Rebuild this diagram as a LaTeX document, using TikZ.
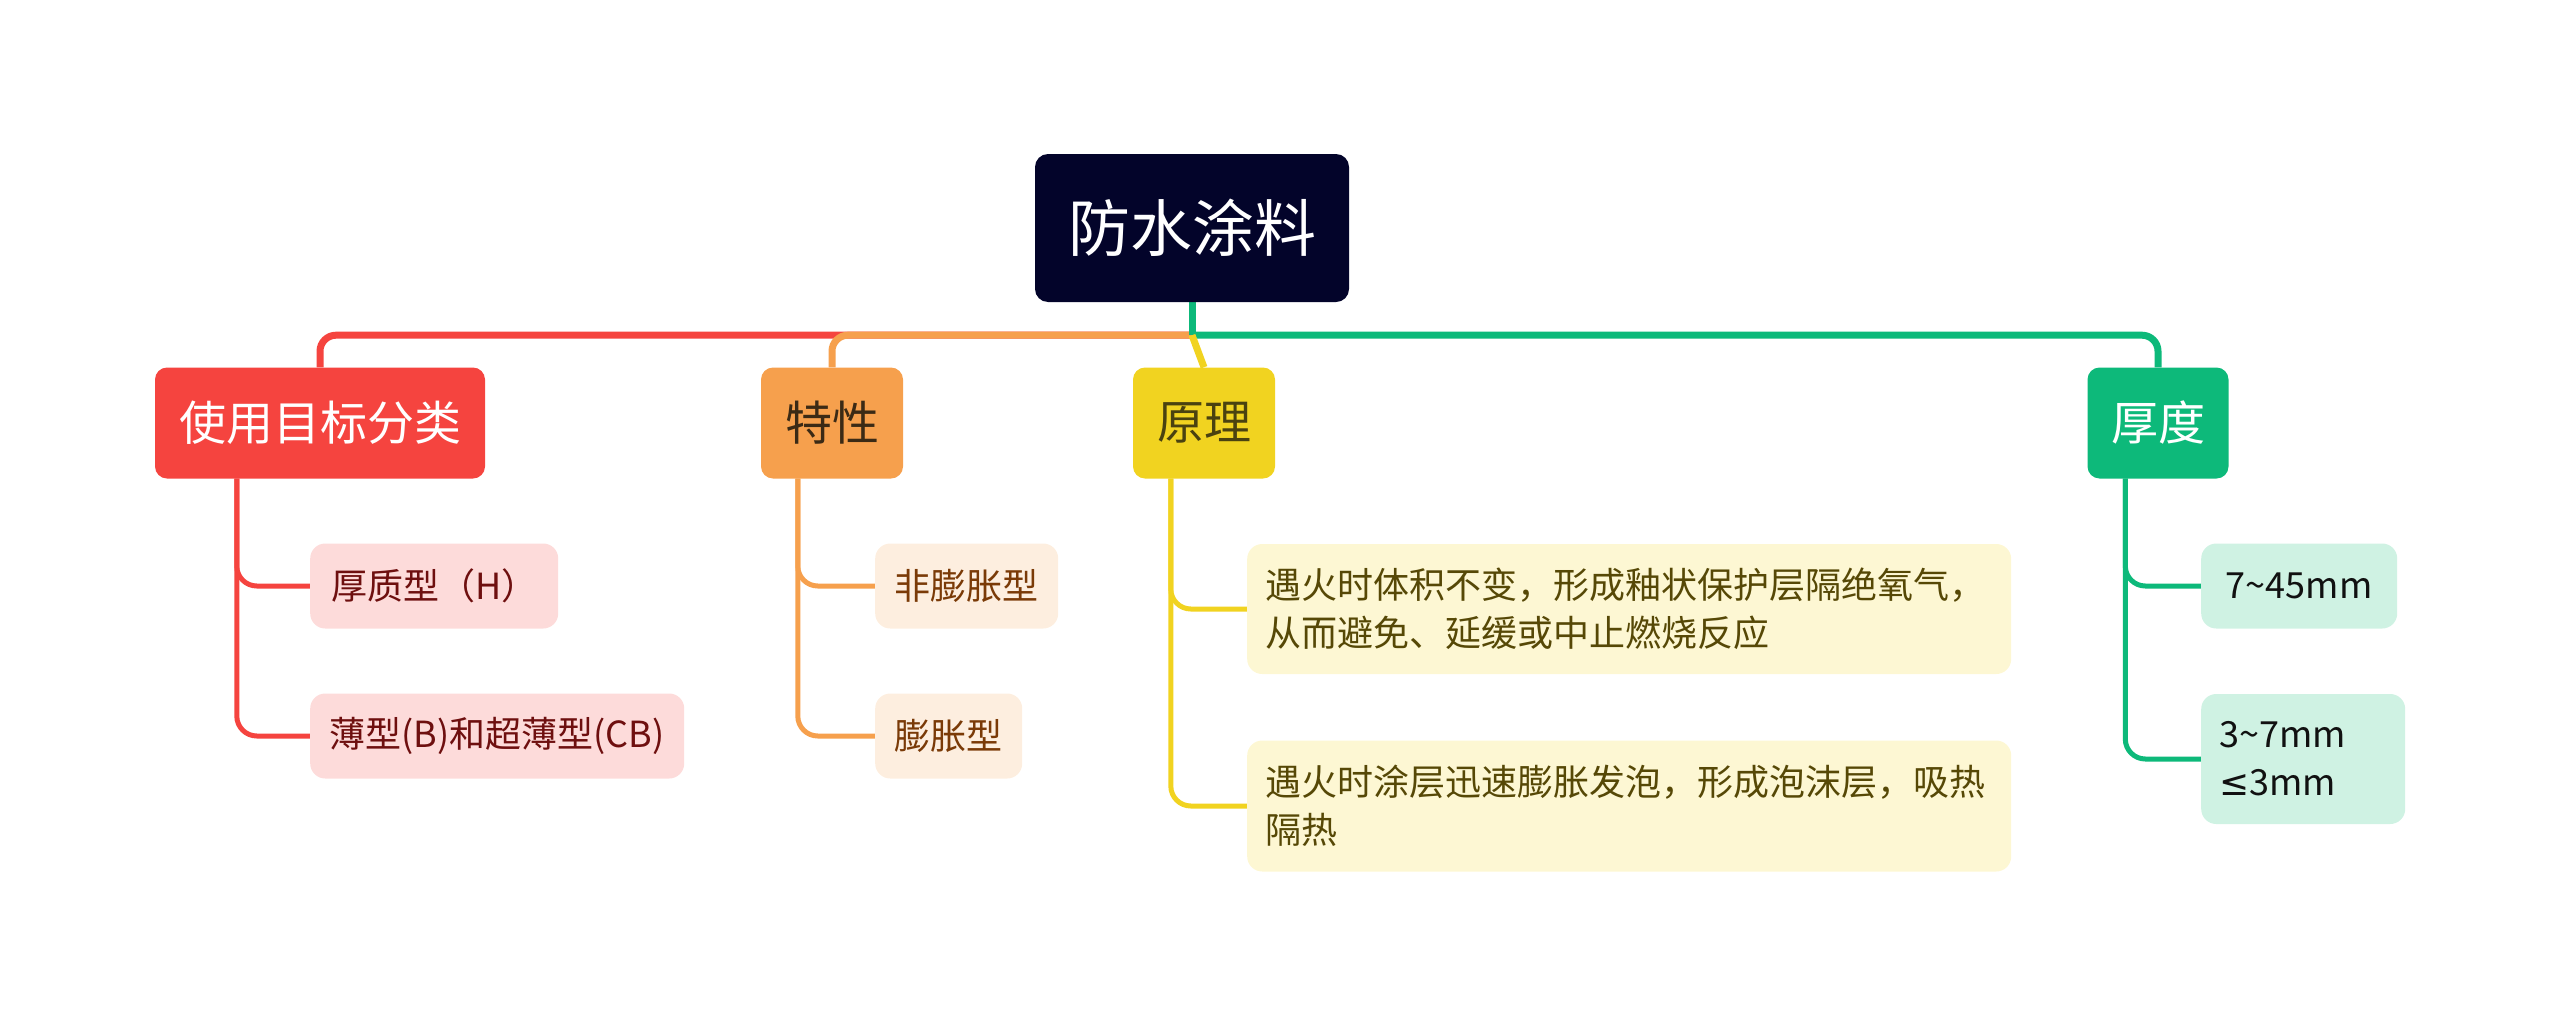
\documentclass[tikz,border=0pt]{standalone}
\usepackage{fontspec}
\setmainfont{Noto Sans CJK SC}
\newfontfamily\symfnt{DejaVu Sans}
\usetikzlibrary{calc,backgrounds}
\definecolor{rootfill}{HTML}{03042A}
\definecolor{redm}{HTML}{F5443F}
\definecolor{redc}{HTML}{FDDBDA}
\definecolor{redt}{HTML}{6E0F0F}
\definecolor{orm}{HTML}{F6A04D}
\definecolor{orc}{HTML}{FDEEDF}
\definecolor{ort}{HTML}{7A3A07}
\definecolor{ormt}{HTML}{3B2A15}
\definecolor{yem}{HTML}{F1D320}
\definecolor{yec}{HTML}{FDF7D3}
\definecolor{yet}{HTML}{564806}
\definecolor{yemt}{HTML}{4A4210}
\definecolor{grm}{HTML}{0DB97A}
\definecolor{grc}{HTML}{CFF2E3}
\definecolor{grt}{HTML}{111111}
\tikzset{
  rootbox/.style={rectangle, rounded corners=13pt, fill=rootfill, text=white,
    minimum width=314pt, minimum height=148pt, inner sep=0pt,
    font=\fontsize{62pt}{74pt}\selectfont},
  mainbox/.style={rectangle, rounded corners=12pt, minimum height=111pt, inner sep=0pt,
    font=\fontsize{47pt}{56pt}\selectfont},
  childbox/.style={rectangle, rounded corners=15pt, anchor=west, minimum height=85pt,
    inner xsep=18pt, inner ysep=0pt, align=left,
    font=\fontsize{36pt}{48pt}\selectfont},
  mainline/.style={line width=7pt},
  childline/.style={line width=5pt, rounded corners=20pt},
}
\begin{document}
\begin{tikzpicture}[x=1pt,y=-1pt]
\useasboundingbox (0,0) rectangle (2560,1028);

% root
\node[rootbox] (root) at (1192,228) {防水涂料};

% main branches
\node[mainbox, fill=redm, text=white, minimum width=330pt] (r1) at (320,423) {使用目标分类};
\node[mainbox, fill=orm, text=ormt, minimum width=142pt] (o1) at (832,423) {特性};
\node[mainbox, fill=yem, text=yemt, minimum width=142pt] (y1) at (1204,423) {原理};
\node[mainbox, fill=grm, text=white, minimum width=141pt] (g1) at (2158,423) {厚度};

% children
\node[childbox, fill=redc, text=redt, minimum width=248pt] (rc1) at (310,586) {厚质型（H）};
\node[childbox, fill=redc, text=redt, minimum width=374pt] (rc2) at (310,736) {薄型(B)和超薄型(CB)};
\node[childbox, fill=orc, text=ort, minimum width=183pt] (oc1) at (875,586) {非膨胀型};
\node[childbox, fill=orc, text=ort, minimum width=147pt] (oc2) at (875,736) {膨胀型};
\node[childbox, fill=yec, text=yet, minimum height=130pt, text width=728pt] (yc1) at (1247,609)
  {遇火时体积不变，形成釉状保护层隔绝氧气，\\从而避免、延缓或中止燃烧反应};
\node[childbox, fill=yec, text=yet, minimum height=131pt, text width=728pt] (yc2) at (1247,806)
  {遇火时涂层迅速膨胀发泡，形成泡沫层，吸热\\隔热};
\node[childbox, fill=grc, text=grt, minimum width=196pt] (gc1) at (2201,586) {7\textasciitilde45mm};
\node[childbox, fill=grc, text=grt, minimum height=130pt, text width=168pt] (gc2) at (2201,759)
  {3\textasciitilde7mm\\{\symfnt ≤}3mm};

\coordinate (J) at ($(root.south)+(0,33)$);
\coordinate (rv) at ($(r1.south west)+(82,0)$);
\coordinate (ov) at ($(o1.south west)+(37,0)$);
\coordinate (yv) at ($(y1.south west)+(38,0)$);
\coordinate (gv) at ($(g1.south west)+(38,0)$);

\begin{scope}[on background layer]
  \draw[mainline, redm, rounded corners=16pt] (J) -| (r1.north);
  \draw[mainline, orm, rounded corners=16pt] (J) -| (o1.north);
  \draw[mainline, grm] (root.south) -- (J);
  \draw[mainline, grm, rounded corners=16pt] (J) -| (g1.north);
  \draw[mainline, yem] (J) -- (y1.north);

  \draw[childline, redm] (rv) |- (rc1.west);
  \draw[childline, redm] (rv) |- (rc2.west);
  \draw[childline, orm] (ov) |- (oc1.west);
  \draw[childline, orm] (ov) |- (oc2.west);
  \draw[childline, yem] (yv) |- (yc1.west);
  \draw[childline, yem] (yv) |- (yc2.west);
  \draw[childline, grm] (gv) |- (gc1.west);
  \draw[childline, grm] (gv) |- (gc2.west);
\end{scope}
\end{tikzpicture}
\end{document}
